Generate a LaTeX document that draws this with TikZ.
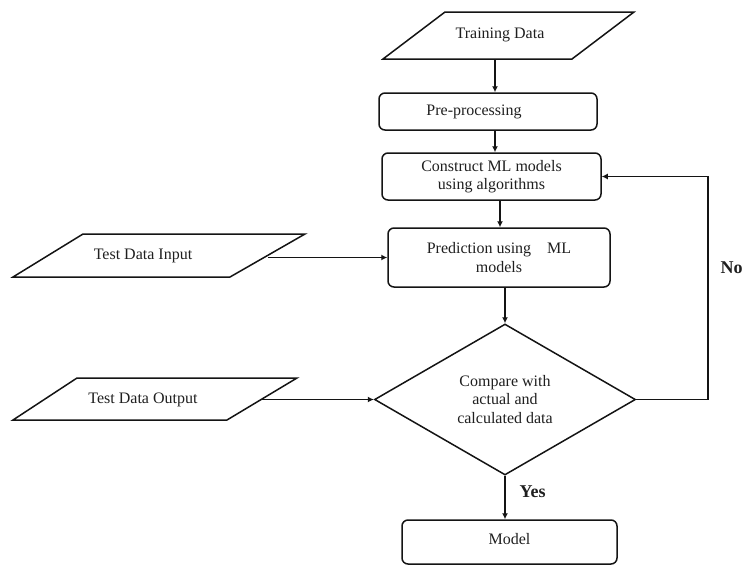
\documentclass[tikz,border=0pt]{standalone}
\usepackage{fontspec}
\setmainfont{Liberation Serif}
\usetikzlibrary{shapes.geometric,arrows.meta}
\begin{document}
\begin{tikzpicture}[x=1pt,y=-1pt,
  every node/.style={font=\fontsize{16}{18.5}\selectfont, text=black!88},
  ln/.style={line width=1.5pt, draw=black!92},
  arr/.style={ln, -{Latex[length=6pt,width=6pt]}},
  rbox/.style={ln, draw, rectangle, rounded corners=6pt, align=center, inner sep=0pt},
  para/.style={ln, line join=miter},
  dia/.style={ln, draw, diamond, aspect=1.7, inner sep=0pt, align=center},
  lbl/.style={font=\fontsize{18}{20}\selectfont\bfseries}]
\useasboundingbox (0,0) rectangle (746,565);
% parallelograms (input/output)
\draw[para] (445,12) -- (634,12) -- (572,59) -- (383,59) -- cycle;
\node (train) at (500,35) {Training Data};
\coordinate (trainb) at (495,59);
\draw[para] (83,234) -- (305,234) -- (230,277) -- (13,277) -- cycle;
\node (tin) at (143,256) {Test Data Input};
\coordinate (tinr) at (268,257.5);
\draw[para] (77,378) -- (297,378) -- (227,420) -- (13,420) -- cycle;
\node (tout) at (143,400) {Test Data Output};
\coordinate (toutr) at (262,399.5);
% process boxes
\node[rbox, minimum width=218, minimum height=37,
  label={[xshift=-14pt, font=\fontsize{16}{18.5}\selectfont, text=black!88]center:Pre-processing}] (pre) at (488,111.5) {};
\node[rbox, minimum width=219, minimum height=47] (con) at (491.5,176.5) {Construct ML models\\using algorithms};
\node[rbox, minimum width=222, minimum height=59] (pred) at (499,257.5) {Prediction using\quad ML\\models};
\node[dia, minimum width=261, minimum height=151] (cmp) at (505,399.5) {Compare with\\actual and\\calculated data};
\node[rbox, minimum width=215, minimum height=44,
  label={[yshift=3pt, font=\fontsize{16}{18.5}\selectfont, text=black!88]center:Model}] (model) at (509.5,542) {};
\coordinate (noc) at (708,399.5);
% connectors
\draw[arr] (trainb) -- (trainb |- pre.north);
\draw[arr] (pre.south -| trainb) -- (con.north -| trainb);
\draw[arr] ([xshift=8.5pt]con.south) -- ([xshift=8.5pt]con.south |- pred.north);
\draw[arr] (pred.south -| cmp.north) -- (cmp.north);
\draw[arr] (tinr) -- (tinr -| pred.west);
\draw[arr] (toutr) -- (cmp.west);
\draw[arr] (cmp.east) -- (noc) |- (con.east);
\draw[arr] (cmp.south) -- (cmp.south |- model.north);
% labels
\node[lbl, anchor=west] (no) at (717,268) {No};
\node[lbl, anchor=west] (yes) at (516,492) {Yes};
\end{tikzpicture}
\end{document}
